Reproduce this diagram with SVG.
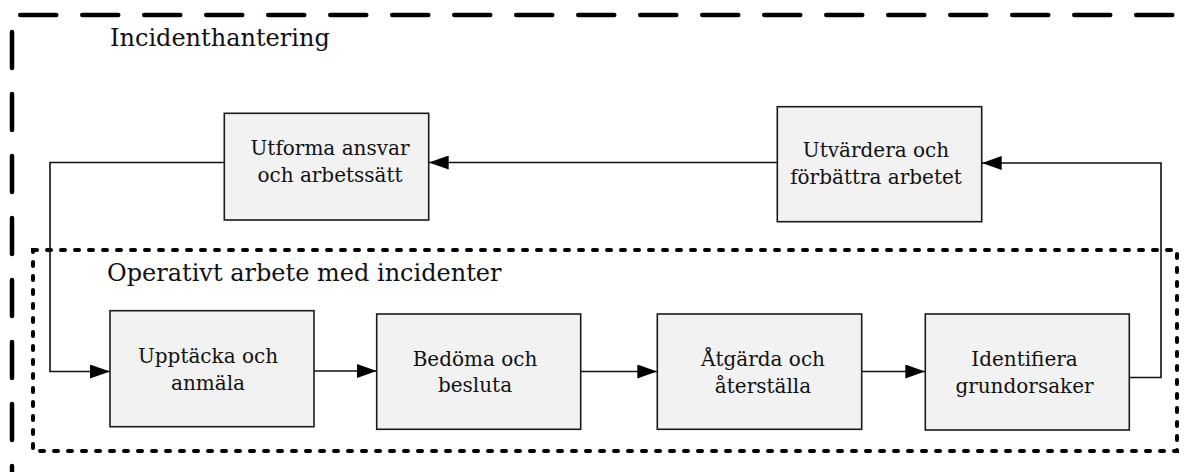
<svg xmlns="http://www.w3.org/2000/svg" width="1192" height="472" viewBox="0 0 1192 472">
<style>
.box{fill:#f2f2f2;stroke:#1a1a1a;stroke-width:1.6}
.t{font-family:"DejaVu Serif","Liberation Serif",serif;font-size:20px;fill:#111;text-anchor:middle}
.h{font-family:"DejaVu Serif","Liberation Serif",serif;font-size:24px;fill:#111}
.c{fill:none;stroke:#111;stroke-width:1.6}
.outer{fill:none;stroke:#000;stroke-width:4.5;stroke-linecap:round;stroke-dasharray:36 26}
.inner{fill:none;stroke:#000;stroke-width:4;stroke-linecap:round;stroke-dasharray:4 10}
</style>
<defs>
<marker id="arr" markerUnits="userSpaceOnUse" markerWidth="20" markerHeight="14" refX="20" refY="7" orient="auto">
<path d="M0,0 L20,7 L0,14 z" fill="#000"/>
</marker>
</defs>
<rect width="1192" height="472" fill="#fff"/>
<g id="incidenthantering">
<line class="outer" x1="20.25" y1="15" x2="1200" y2="15"/>
<line class="outer" x1="12" y1="32" x2="12" y2="480"/>
<text class="h" x="110" y="46">Incidenthantering</text>
</g>
<g id="operativt">
<rect class="inner" x="33" y="250" width="1144" height="201"/>
<text class="h" x="107" y="281">Operativt arbete med incidenter</text>
</g>
<g id="connectors">
<polyline class="c" points="224,162.5 50,162.5 50,371.5 110,371.5" marker-end="url(#arr)"/>
<line class="c" x1="777" y1="162.5" x2="428.7" y2="162.5" marker-end="url(#arr)"/>
<polyline class="c" points="1129.3,377.5 1161,377.5 1161,163 981.7,163" marker-end="url(#arr)"/>
<line class="c" x1="314" y1="371" x2="376.7" y2="371" marker-end="url(#arr)"/>
<line class="c" x1="580.7" y1="371.5" x2="657.3" y2="371.5" marker-end="url(#arr)"/>
<line class="c" x1="861.7" y1="371.5" x2="925.3" y2="371.5" marker-end="url(#arr)"/>
</g>
<g id="utforma">
<rect class="box" x="224.3" y="113.3" width="204.4" height="106.7"/>
<text class="t" x="330" y="155">Utforma ansvar</text>
<text class="t" x="330" y="181.5">och arbetssätt</text>
</g>
<g id="utvardera">
<rect class="box" x="777.3" y="106.7" width="204.4" height="115"/>
<text class="t" x="876" y="157">Utvärdera och</text>
<text class="t" x="876" y="184">förbättra arbetet</text>
</g>
<g id="upptacka">
<rect class="box" x="110" y="310.7" width="204" height="116"/>
<text class="t" x="208" y="363.3">Upptäcka och</text>
<text class="t" x="208" y="390">anmäla</text>
</g>
<g id="bedoma">
<rect class="box" x="376.7" y="314" width="204" height="115.3"/>
<text class="t" x="475" y="366">Bedöma och</text>
<text class="t" x="475" y="392">besluta</text>
</g>
<g id="atgarda">
<rect class="box" x="657.3" y="314" width="204.4" height="115.3"/>
<text class="t" x="763" y="366">Åtgärda och</text>
<text class="t" x="763" y="392.7">återställa</text>
</g>
<g id="identifiera">
<rect class="box" x="925.3" y="314" width="204" height="116"/>
<text class="t" x="1024.5" y="366">Identifiera</text>
<text class="t" x="1024.5" y="392.7">grundorsaker</text>
</g>
</svg>
